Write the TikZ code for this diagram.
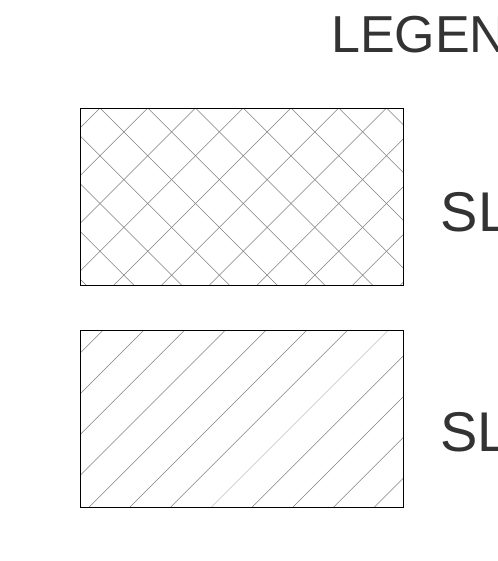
\documentclass[tikz,border=0pt]{standalone}
\usepackage{fontspec}
\setmainfont{Liberation Sans}
\definecolor{txtgray}{HTML}{333333}
\begin{document}
\begin{tikzpicture}[x=1pt,y=-1pt,
  hatch/.style={line width=0.6pt,color=black!50},
  hatchlight/.style={line width=0.6pt,color=black!25},
  frame/.style={draw=black,line width=0.8pt},
  lbl/.style={inner sep=0pt,anchor=base west,text=txtgray}]
\useasboundingbox (0,0) rectangle (497,561);
\clip (0,0) rectangle (497,561);
% crosshatch box
\begin{scope}
  \clip (80,108.3) rectangle (403.3,285);
  \foreach \k in {-6,...,8} {
    \pgfmathsetmacro\c{-8+47.75*\k}
    \draw[hatch] ({\c+50},50) -- ({\c+350},350);
  }
  \foreach \k in {-2,...,12} {
    \pgfmathsetmacro\d{208+47.75*\k}
    \draw[hatch] ({\d-50},50) -- ({\d-350},350);
  }
\end{scope}
\draw[frame] (80,108.3) rectangle (403.3,285);
% single hatch box
\begin{scope}
  \clip (80,330) rectangle (403.3,507);
  \foreach \k in {-2,...,13} {
    \pgfmathsetmacro\d{433.3+40.75*\k}
    \ifnum\k=7
      \draw[hatchlight] ({\d-300},300) -- ({\d-550},550);
    \else
      \draw[hatch] ({\d-300},300) -- ({\d-550},550);
    \fi
  }
\end{scope}
\draw[frame] (80,330) rectangle (403.3,507);
% labels
\node[lbl,font=\fontsize{52}{52}\selectfont] (legend) at (331,52.3) {LEGEN};
\node[lbl,font=\fontsize{56}{56}\selectfont] (sl1) at (440.5,231) {SL};
\node[lbl,font=\fontsize{56}{56}\selectfont] (sl2) at (440,451) {SL};
\end{tikzpicture}
\end{document}
